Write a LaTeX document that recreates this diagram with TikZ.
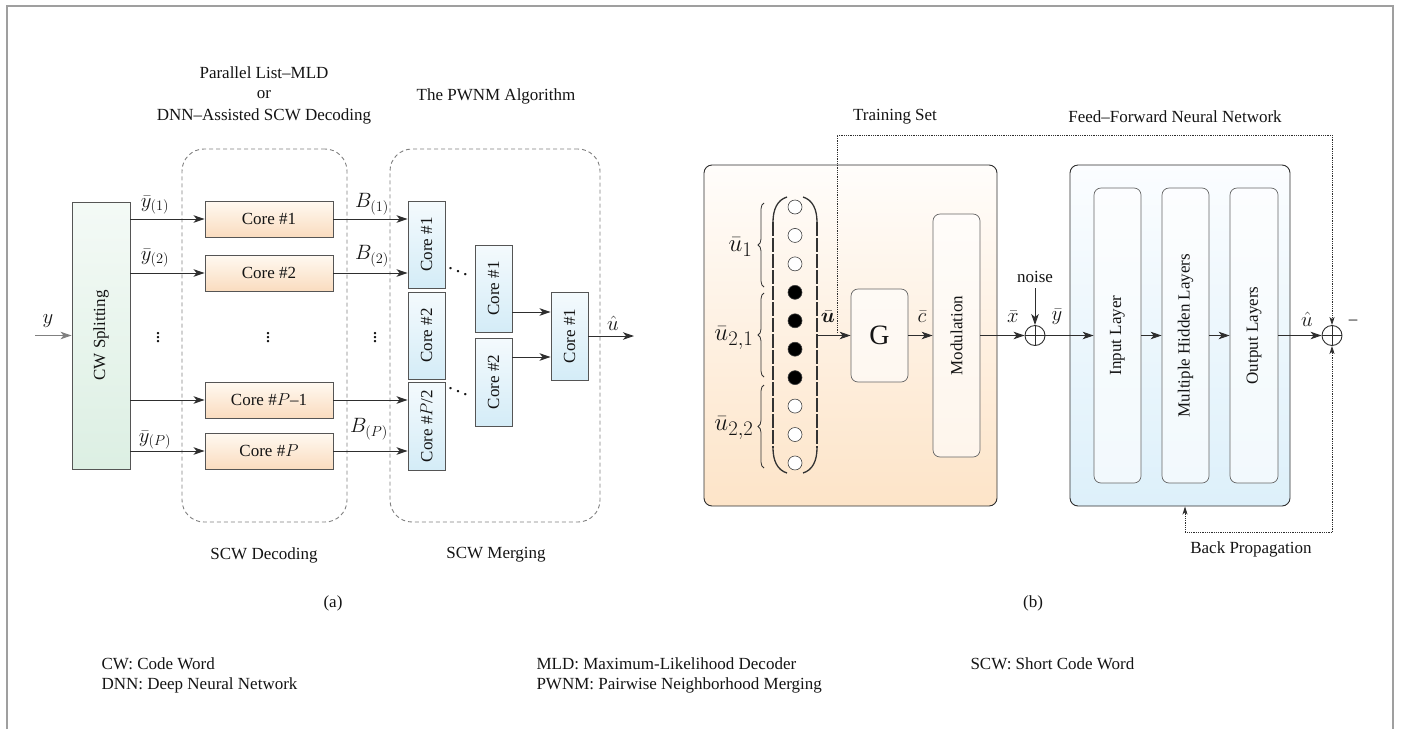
\documentclass[tikz,border=0pt]{standalone}
\usepackage{bm}
\usepackage{fontspec}
\setmainfont{Liberation Serif}
\usetikzlibrary{arrows.meta,decorations.pathreplacing,calc}
\definecolor{ln}{HTML}{2E2E2E}
\definecolor{bd}{HTML}{555555}
\definecolor{or1}{HTML}{FFF9F1}
\definecolor{or2}{HTML}{FADCBF}
\definecolor{bl1}{HTML}{F4FAFD}
\definecolor{bl2}{HTML}{D4ECF7}
\definecolor{gr1}{HTML}{F4FAF6}
\definecolor{gr2}{HTML}{DCEFE3}
\definecolor{po1}{HTML}{FFFDFB}
\definecolor{po2}{HTML}{FDE4C8}
\definecolor{pb1}{HTML}{FBFDFF}
\definecolor{pb2}{HTML}{DDF0FA}
\newcommand\vcore[4]{\node[bluecore, minimum width=37, minimum height=#4] (#1) at (#2) {};
  \node[rotate=90] (#1t) at (#1.center) {#3};}
\begin{document}
\begin{tikzpicture}[x=1pt,y=-1pt,
  every node/.style={font=\fontsize{17}{20}\selectfont, text=black!92},
  bigmath/.style={font=\fontsize{20}{24}\selectfont},
  hugemath/.style={font=\fontsize{28}{32}\selectfont},
  arr/.style={draw=ln, line width=1pt, -{Stealth[length=11pt,width=7.5pt,inset=3pt]}},
  cbox/.style={draw=bd, line width=0.9pt, inner sep=0pt},
  orangecore/.style={cbox, top color=or1, bottom color=or2},
  bluecore/.style={cbox, top color=bl1, bottom color=bl2},
  dashbox/.style={draw=gray, dash pattern=on 4pt off 3pt, rounded corners=22pt, line width=0.9pt, inner sep=0pt},
  fb/.style={draw=ln, densely dotted, line width=0.8pt},
  fbarr/.style={fb, -{Stealth[length=8pt,width=5pt,inset=2pt]}},
  panel/.style={draw=ln, line width=0.9pt, rounded corners=8pt, inner sep=0pt},
  inner/.style={draw=black!60, line width=0.7pt, rounded corners=7pt, fill=white, fill opacity=0.6, inner sep=0pt},
  sumnode/.style={circle, draw=ln, line width=0.9pt, minimum size=20pt, inner sep=0pt},
  dot/.style={circle, draw=black!75, line width=0.6pt, minimum size=14pt, inner sep=0pt}]
\useasboundingbox (0,0) rectangle (1401,729);
\draw[gray!75, line width=1.2pt] (7,729) -- (7,6) -- (1393,6) -- (1393,729);

% ---------------- panel (a) ----------------
\node (t1) at (264,73) {Parallel List--MLD};
\node (t2) at (264,95) {or};
\node (t3) at (264,116) {DNN--Assisted SCW Decoding};
\node (t4) at (496,96) {The PWNM Algorithm};

\node[dashbox, minimum width=165, minimum height=373] (d1) at (264.5,335.5) {};
\node[dashbox, minimum width=210, minimum height=373] (d2) at (495,335.5) {};

\node[cbox, top color=gr1, bottom color=gr2, minimum width=58, minimum height=267] (cw) at (101,335.5) {};
\node[rotate=90] (cwt) at (cw.center) {CW Splitting};
\coordinate (yin) at (35,335.5);
\draw[arr, draw=gray] (yin) -- (cw);
\node[bigmath] (ylab) at (48,321) {$y$};

\node[orangecore, minimum width=128, minimum height=36] (c1) at (269,219) {Core \#1};
\node[orangecore, minimum width=128, minimum height=36] (c2) at (269,273) {Core \#2};
\node[orangecore, minimum width=128, minimum height=36] (c3) at (269,400) {Core \#$P$--1};
\node[orangecore, minimum width=128, minimum height=36] (c4) at (269,451) {Core \#$P$};

\draw[arr] (cw.east |- c1) -- (c1);
\draw[arr] (cw.east |- c2) -- (c2);
\draw[arr] (cw.east |- c3) -- (c3);
\draw[arr] (cw.east |- c4) -- (c4);
\node[bigmath] (ly1) at (155,205) {$\bar{y}_{(1)}$};
\node[bigmath] (ly2) at (155,258) {$\bar{y}_{(2)}$};
\node[bigmath] (lyp) at (155,440) {$\bar{y}_{(P)}$};

\vcore{m1}{426.5,244.5}{Core \#1}{87}
\vcore{m2}{426.5,335.5}{Core \#2}{87}
\vcore{m3}{426.5,426}{Core \#$P$/2}{88}
\vcore{n1}{493.5,288.5}{Core \#1}{87}
\vcore{n2}{493.5,382}{Core \#2}{88}
\vcore{f}{569.5,336}{Core \#1}{88}

\draw[arr] (c1) -- (m1.west |- c1);
\draw[arr] (c2) -- (m1.west |- c2);
\draw[arr] (c3) -- (m3.west |- c3);
\draw[arr] (c4) -- (m3.west |- c4);
\node[bigmath] (lb1) at (372,204) {$B_{(1)}$};
\node[bigmath] (lb2) at (372,256) {$B_{(2)}$};
\node[bigmath] (lbp) at (369,429) {$B_{(P)}$};

\draw[arr] (n1.east |- 0,312) -- (f.west |- 0,312);
\draw[arr] (n2.east |- 0,357) -- (f.west |- 0,357);
\coordinate (uout) at (634,336);
\draw[arr] (f) -- (uout);
\node[bigmath] (lu) at (613,323) {$\hat{u}$};

\node[bigmath] (v1) at (158,335) {$\vdots$};
\node[bigmath] (v2) at (268,335) {$\vdots$};
\node[bigmath] (v3) at (375,335) {$\vdots$};
\node[bigmath] (dd1) at (458,268) {$\ddots$};
\node[bigmath] (dd2) at (458,388) {$\ddots$};

\node (sa) at (264,555) {SCW Decoding};
\node (sb) at (496,555) {SCW Merging};
\node (ca) at (333,603) {(a)};
\node (cb) at (1033,603) {(b)};

% ---------------- panel (b) ----------------
\node (tt) at (895,117) {Training Set};
\node (tf) at (1175,117) {Feed--Forward Neural Network};

\node[panel, top color=po1, bottom color=po2, minimum width=293, minimum height=341] (tp) at (850.5,335.5) {};
\node[panel, top color=pb1, bottom color=pb2, minimum width=220, minimum height=341] (np) at (1180,335.5) {};

\foreach \i in {0,...,9} {
  \pgfmathsetmacro{\yy}{207+28.44*\i}
  \ifnum\i>2 \ifnum\i<7
    \node[dot, fill=black] (b\i) at (795,\yy) {};
  \else
    \node[dot, fill=white] (b\i) at (795,\yy) {};
  \fi\else
    \node[dot, fill=white] (b\i) at (795,\yy) {};
  \fi
}
\draw[draw=black!80, line width=1.3pt] (787,197) .. controls (777,200) and (773,210) .. (773,222);
\draw[draw=black!80, line width=1.3pt] (773,448) .. controls (773,460) and (777,470) .. (787,473);
\draw[draw=black!80, line width=1.3pt, dash pattern=on 14pt off 2pt] (773,222) -- (773,448);
\draw[draw=black!80, line width=1.3pt] (803,197) .. controls (813,200) and (817,210) .. (817,222);
\draw[draw=black!80, line width=1.3pt] (817,448) .. controls (817,460) and (813,470) .. (803,473);
\draw[draw=black!80, line width=1.3pt, dash pattern=on 14pt off 2pt] (817,222) -- (817,448);

\draw[draw=black!80, line width=0.8pt, decorate, decoration={brace, amplitude=6pt}] (764,287) -- (764,203);
\draw[draw=black!80, line width=0.8pt, decorate, decoration={brace, amplitude=6pt}] (764,377) -- (764,293);
\draw[draw=black!80, line width=0.8pt, decorate, decoration={brace, amplitude=6pt}] (764,468) -- (764,385);
\node[anchor=east, hugemath] (lu1) at (756,247) {$\bar{u}_1$};
\node[anchor=east, hugemath] (lu2) at (757,338) {$\bar{u}_{2,1}$};
\node[anchor=east, hugemath] (lu3) at (757,428) {$\bar{u}_{2,2}$};

\node[inner, minimum width=57, minimum height=93] (g) at (879.5,335.5) {};
\node[font=\fontsize{28}{32}\selectfont] (gt) at (g.center) {G};
\node[inner, minimum width=47, minimum height=243] (mod) at (956.5,335.5) {};
\node[rotate=90] (modt) at (mod.center) {Modulation};

\coordinate (vr) at (817,335.5);
\draw[arr] (vr) -- (g);
\node[bigmath] (lub) at (828,317) {$\bar{\bm{u}}$};
\draw[arr] (g) -- (mod);
\node[bigmath] (lc) at (922,317) {$\bar{c}$};

\node[sumnode] (s1) at (1035,335.5) {};
\draw[ln, line width=0.8pt] (s1.north) -- (s1.south) (s1.west) -- (s1.east);
\draw[arr] (mod) -- (s1);
\node[bigmath] (lx) at (1013,317) {$\bar{x}$};
\node (nz) at (1035,277) {noise};
\coordinate (nzb) at (1035,288);
\draw[arr] (nzb) -- (s1);

\node[inner, minimum width=47, minimum height=295] (inl) at (1117.5,335.5) {};
\node[rotate=90] (inlt) at (inl.center) {Input Layer};
\node[inner, minimum width=47, minimum height=295] (hid) at (1185.5,335.5) {};
\node[rotate=90] (hidt) at (hid.center) {Multiple Hidden Layers};
\node[inner, minimum width=48, minimum height=295] (outl) at (1254,335.5) {};
\node[rotate=90] (outlt) at (outl.center) {Output Layers};

\draw[arr] (s1) -- (inl);
\node[bigmath] (lyb) at (1057,317) {$\bar{y}$};
\draw[arr] (inl) -- (hid);
\draw[arr] (hid) -- (outl);

\node[sumnode] (s2) at (1332,335.5) {};
\draw[ln, line width=0.8pt] (s2.north) -- (s2.south) (s2.west) -- (s2.east);
\draw[arr] (outl) -- (s2);
\node[bigmath] (luh) at (1307,319) {$\hat{u}$};
\node (mn) at (1353,322) {--};

\coordinate (ts) at (837,333);
\draw[fbarr] (ts) -- (837,135) -- (1332,135) -- (s2);
\coordinate (bp) at (1332,532);
\coordinate (bpl) at (1185,532);
\draw[fbarr] (bp) -- (s2);
\draw[fbarr] (bp) -- (bpl) -- (bpl |- np.south);
\node (lbpr) at (1251,549) {Back Propagation};

% ---------------- footnotes ----------------
\node[anchor=west] (f1) at (98,664) {CW: Code Word};
\node[anchor=west] (f2) at (98,685) {DNN: Deep Neural Network};
\node[anchor=west] (f3) at (533,664) {MLD: Maximum-Likelihood Decoder};
\node[anchor=west] (f4) at (533,685) {PWNM: Pairwise Neighborhood Merging};
\node[anchor=west] (f5) at (967,664) {SCW: Short Code Word};
\end{tikzpicture}
\end{document}
